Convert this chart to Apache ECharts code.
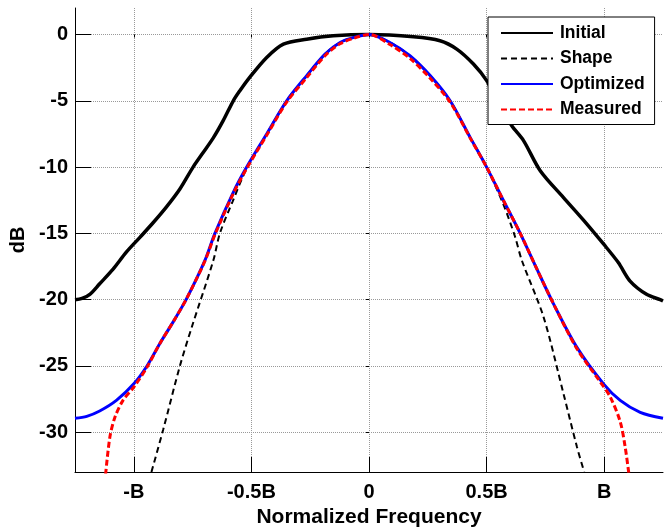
<!DOCTYPE html>
<html>
<head>
<meta charset="utf-8">
<script src="https://cdn.jsdelivr.net/npm/echarts@6/dist/echarts.min.js"></script>
<style>
html, body { margin: 0; padding: 0; background: #fff; }
#chart { width: 671px; height: 531px; }
</style>
</head>
<body>
<div id="chart"></div>
<script>
// x in units of B (normalized frequency), y in dB
var xTicks = [-1, -0.5, 0, 0.5, 1];
var xTickLabels = ['-B', '-0.5B', '0', '0.5B', 'B'];
var yTicks = [-30, -25, -20, -15, -10, -5, 0];

var initial = [
  [-1.25, -20.0], [-1.22, -19.9], [-1.187, -19.6], [-1.145, -18.8], [-1.088, -17.7],
  [-1.031, -16.4], [-0.974, -15.3], [-0.918, -14.2], [-0.861, -13.0], [-0.804, -11.65],
  [-0.748, -10.0], [-0.705, -8.9], [-0.662, -7.8], [-0.62, -6.5],
  [-0.577, -5.0], [-0.549, -4.24], [-0.513, -3.36], [-0.435, -1.73], [-0.364, -0.72],
  [-0.265, -0.35], [-0.152, -0.1], [0, 0], [0.189, -0.17], [0.302, -0.47],
  [0.373, -1.1], [0.444, -2.23], [0.501, -3.5], [0.55, -5.2], [0.607, -6.88],
  [0.657, -8.0], [0.728, -10.27], [0.827, -12.3], [0.912, -14.0], [0.997, -15.8],
  [1.06, -17.2], [1.11, -18.6], [1.18, -19.6], [1.238, -20.0], [1.25, -20.1]
];

var shape = [
  [-0.925, -33.0], [-0.875, -29.8], [-0.804, -25.0], [-0.754, -22.1], [-0.662, -17.05],
  [-0.634, -15.0], [-0.58, -12.6], [-0.52, -10.1], [-0.435, -7.5], [-0.35, -5.0],
  [-0.265, -3.1], [-0.187, -1.48], [-0.123, -0.6], [-0.06, -0.2], [0, 0],
  [0.089, -0.6], [0.174, -1.6], [0.26, -3.1], [0.345, -5.0], [0.43, -7.76],
  [0.5, -10.0], [0.571, -12.8], [0.62, -15.2], [0.65, -17.05], [0.742, -21.3],
  [0.827, -27.1], [0.884, -31.1], [0.915, -33.0]
];

var optimized = [
  [-1.25, -28.95], [-1.2, -28.8], [-1.145, -28.4], [-1.074, -27.6], [-1.0, -26.35],
  [-0.944, -25.0], [-0.889, -23.3], [-0.83, -21.6], [-0.775, -19.9], [-0.698, -17.05],
  [-0.655, -15.0], [-0.577, -11.9], [-0.52, -10.0], [-0.435, -7.5], [-0.35, -5.0],
  [-0.265, -3.1], [-0.187, -1.48], [-0.123, -0.6], [-0.06, -0.2], [0, 0],
  [0.089, -0.6], [0.174, -1.6], [0.26, -3.1], [0.345, -5.0], [0.43, -7.76],
  [0.5, -10.0], [0.571, -12.5], [0.643, -15.0], [0.714, -17.7], [0.784, -20.3],
  [0.884, -23.6], [0.997, -26.35], [1.068, -27.6], [1.153, -28.5], [1.25, -28.95]
];

var measured = [
  [-1.12, -33.2], [-1.102, -30.4], [-1.081, -28.9], [-1.046, -27.6], [-1.0, -26.6],
  [-0.944, -25.1], [-0.889, -23.3], [-0.83, -21.6], [-0.775, -19.9], [-0.698, -17.1],
  [-0.655, -15.1], [-0.577, -12.0], [-0.52, -10.1], [-0.435, -7.6], [-0.35, -5.1],
  [-0.265, -3.25], [-0.187, -1.6], [-0.123, -0.7], [-0.06, -0.25], [0, 0],
  [0.089, -0.75], [0.174, -1.8], [0.26, -3.3], [0.345, -5.1], [0.43, -7.8],
  [0.5, -10.0], [0.571, -12.5], [0.643, -15.0], [0.714, -17.7], [0.784, -20.3],
  [0.884, -23.7], [0.983, -26.2], [1.026, -27.35], [1.068, -29.2], [1.089, -31.1],
  [1.104, -33.0], [1.108, -33.5]
];

var font = 'Arial, "Liberation Sans", sans-serif';

var chart = echarts.init(document.getElementById('chart'));

function tickLabel(v) {
  var i = xTicks.indexOf(v);
  return i >= 0 ? xTickLabels[i] : '';
}

chart.setOption({
  animation: false,
  backgroundColor: '#fff',
  grid: { left: 75, right: 8, top: 8, bottom: 59, outerBoundsMode: 'none' },
  legend: {
    orient: 'vertical',
    left: 488,
    top: 17,
    padding: [7, 10, 6, 12],
    itemWidth: 52,
    itemHeight: 14,
    itemGap: 7.5,
    backgroundColor: '#fff',
    borderColor: '#000',
    borderWidth: 1,
    lineStyle: { width: 2 },
    itemStyle: { opacity: 0 },
    textStyle: { fontFamily: font, fontWeight: 'bold', fontSize: 17.5, color: '#000', padding: [0, 0, 0, 2] },
    data: ['Initial', 'Shape', 'Optimized', 'Measured']
  },
  xAxis: [{
    type: 'value',
    min: -1.25,
    max: 1.25,
    name: 'Normalized Frequency',
    nameLocation: 'middle',
    nameGap: 35,
    nameTextStyle: { fontFamily: font, fontWeight: 'bold', fontSize: 21, color: '#000' },
    axisLine: { onZero: false, lineStyle: { color: '#000', width: 1 } },
    axisTick: { inside: true, length: 15, customValues: xTicks, lineStyle: { color: '#000' } },
    axisLabel: {
      customValues: xTicks, margin: 10, formatter: tickLabel,
      fontFamily: font, fontWeight: 'bold', fontSize: 20, color: '#000'
    },
    splitLine: { show: true, lineStyle: { color: '#999', type: 'dotted', width: 1 } }
  }, {
    type: 'value',
    position: 'top',
    min: -1.25,
    max: 1.25,
    axisLine: { show: false },
    axisTick: { inside: true, length: 3, customValues: xTicks, lineStyle: { color: '#000' } },
    axisLabel: { show: false },
    splitLine: { show: false }
  }],
  yAxis: [{
    type: 'value',
    min: -33,
    max: 2,
    name: 'dB',
    nameLocation: 'middle',
    nameGap: 42,
    nameTextStyle: { fontFamily: font, fontWeight: 'bold', fontSize: 20, color: '#000' },
    axisLine: { show: true, onZero: false, lineStyle: { color: '#000', width: 1 } },
    axisTick: { show: true, inside: true, length: 16, customValues: yTicks, lineStyle: { color: '#000' } },
    axisLabel: {
      customValues: yTicks, margin: 7,
      fontFamily: font, fontWeight: 'bold', fontSize: 20, color: '#000'
    },
    splitLine: { show: true, lineStyle: { color: '#999', type: 'dotted', width: 1 } }
  }, {
    type: 'value',
    position: 'right',
    min: -33,
    max: 2,
    axisLine: { show: false },
    axisTick: { show: true, inside: true, length: 3, customValues: yTicks, lineStyle: { color: '#000' } },
    axisLabel: { show: false },
    splitLine: { show: false }
  }],
  series: [
    {
      name: 'Initial', type: 'line', data: initial, symbol: 'none', smooth: 0.3,
      lineStyle: { color: '#000', width: 3.5 }, itemStyle: { color: '#000' }
    },
    {
      name: 'Shape', type: 'line', data: shape, symbol: 'none', smooth: 0.3, z: 3,
      lineStyle: { color: '#000', width: 2, type: [6, 4] }, itemStyle: { color: '#000' }
    },
    {
      name: 'Optimized', type: 'line', data: optimized, symbol: 'none', smooth: 0.3, z: 4,
      lineStyle: { color: '#0000ff', width: 3 }, itemStyle: { color: '#0000ff' }
    },
    {
      name: 'Measured', type: 'line', data: measured, symbol: 'none', smooth: 0.3, z: 5,
      lineStyle: { color: '#ff0000', width: 3, type: [6, 3] }, itemStyle: { color: '#ff0000' }
    }
  ]
});
</script>
</body>
</html>
